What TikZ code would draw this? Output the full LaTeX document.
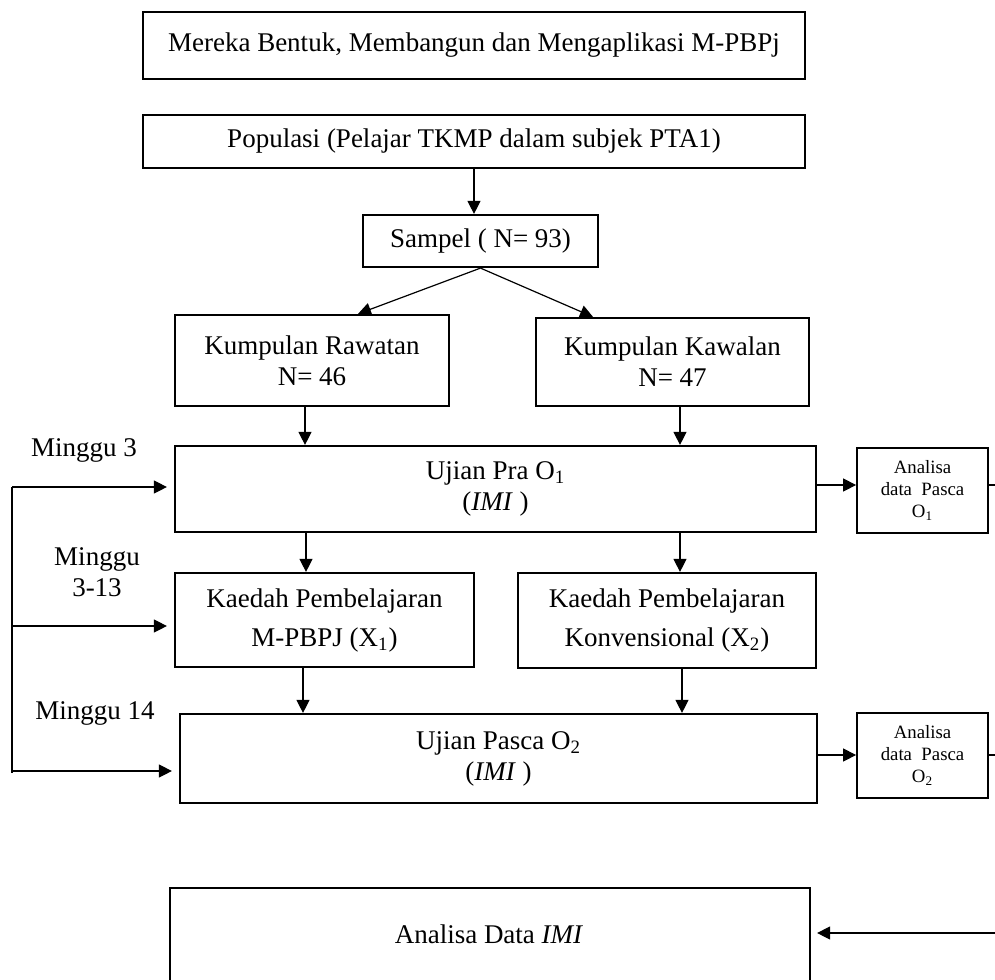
\documentclass[tikz,border=0pt]{standalone}
\usepackage{fontspec}
\setmainfont{Liberation Serif}
\usetikzlibrary{arrows.meta}
\begin{document}
\begin{tikzpicture}[x=0.5pt,y=-0.5pt,
  box/.style={draw, line width=1.1pt, inner sep=0pt, align=center, font=\fontsize{13.5}{15.5}\selectfont},
  smallbox/.style={draw, line width=0.9pt, inner sep=0pt, align=center, font=\fontsize{9.4}{11}\selectfont},
  conn/.style={line width=0.6pt, -{Triangle[length=6.5pt,width=6.5pt]}},
  plainline/.style={line width=0.6pt},
  lbl/.style={align=center, font=\fontsize{13.5}{15.5}\selectfont, inner sep=0pt}]
\useasboundingbox (0,0) rectangle (995,979);
\fill[white] (0,0) rectangle (995,979);

\node[box, minimum width=331pt, minimum height=33.5pt] (top) at (474,45.5) {Mereka Bentuk, Membangun dan Mengaplikasi M-PBPj};
\node[box, minimum width=331pt, minimum height=26.5pt] (pop) at (474,141.5) {Populasi (Pelajar TKMP dalam subjek PTA1)};
\node[box, minimum width=117.5pt, minimum height=26pt] (sam) at (480.5,241) {Sampel ( N= 93)};
\node[box, minimum width=137pt, minimum height=45.5pt] (raw) at (312,360.5) {Kumpulan Rawatan\\N= 46};
\node[box, minimum width=136.5pt, minimum height=44pt] (kaw) at (672.5,362) {Kumpulan Kawalan\\N= 47};
\node[box, minimum width=320.5pt, minimum height=43pt] (pra) at (495.5,489) {Ujian Pra O\textsubscript{1}\\(\textit{IMI} )};
\node[smallbox, minimum width=65.5pt, minimum height=42.5pt] (an1) at (922.5,490.5) {Analisa\\data\ \ Pasca\\O\textsubscript{1}};
\node[box, minimum width=149.5pt, minimum height=47pt] (kd1) at (324.5,620) {Kaedah Pembelajaran\\[4pt]M-PBPJ (X\textsubscript{1})};
\node[box, minimum width=149pt, minimum height=47.5pt] (kd2) at (667,620.5) {Kaedah Pembelajaran\\[4pt]Konvensional (X\textsubscript{2})};
\node[box, minimum width=318.5pt, minimum height=44.5pt] (pas) at (498.5,758.5) {Ujian Pasca O\textsubscript{2}\\(\textit{IMI} )};
\node[smallbox, minimum width=65.5pt, minimum height=42.5pt] (an2) at (922.5,755.5) {Analisa\\data\ \ Pasca\\O\textsubscript{2}};
\node[box, minimum width=320pt, minimum height=61pt] (ana) at (490,949) {};
\node[lbl] (anatext) at (489,934) {Analisa Data \textit{IMI}};

\node[lbl] (m1) at (84,450) {Minggu 3};
\node[lbl] (m2) at (97,572) {Minggu\\3-13};
\node[lbl] (m3) at (95,713) {Minggu 14};

% top flow
\draw[conn] (pop.south) -- (pop.south |- sam.north);
\draw[conn] (sam.south) -- ([xshift=23pt]raw.north);
\draw[conn] (sam.south) -- ([xshift=-39.75pt]kaw.north);
\draw[conn] ([xshift=-3.5pt]raw.south) -- ([xshift=-3.5pt]raw.south |- pra.north);
\draw[conn] ([xshift=3.75pt]kaw.south) -- ([xshift=3.75pt]kaw.south |- pra.north);
\draw[conn] ([xshift=-9.25pt]kd1.north |- pra.south) -- ([xshift=-9.25pt]kd1.north);
\draw[conn] ([xshift=6.5pt]kd2.north |- pra.south) -- ([xshift=6.5pt]kd2.north);
\draw[conn] ([xshift=-10.75pt]kd1.south) -- ([xshift=-10.75pt]kd1.south |- pas.north);
\draw[conn] ([xshift=7.5pt]kd2.south) -- ([xshift=7.5pt]kd2.south |- pas.north);

% right side
\draw[conn] ([yshift=2pt]pra.east) -- ([yshift=2pt]pra.east -| an1.west);
\draw[conn] ([yshift=1.75pt]pas.east) -- ([yshift=1.75pt]pas.east -| an2.west);
\coordinate (r1) at (995,485);
\coordinate (r2) at (995,755);
\coordinate (r3) at (995,933);
\draw[plainline] (r1 -| an1.east) -- (r1);
\draw[plainline] (r2 -| an2.east) -- (r2);
\draw[conn, shorten >=3pt] (r3) -- (r3 -| ana.east);

% left side
\coordinate (l1) at (12,487);
\coordinate (l2) at (12,626);
\coordinate (l3) at (12,771);
\coordinate (l4) at (12,773);
\draw[plainline] (l1) -- (l4);
\draw[conn, shorten >=3.5pt] (l1) -- (l1 -| pra.west);
\draw[conn, shorten >=3.5pt] (l2) -- (l2 -| kd1.west);
\draw[conn, shorten >=3.5pt] (l3) -- (l3 -| pas.west);
\end{tikzpicture}
\end{document}
